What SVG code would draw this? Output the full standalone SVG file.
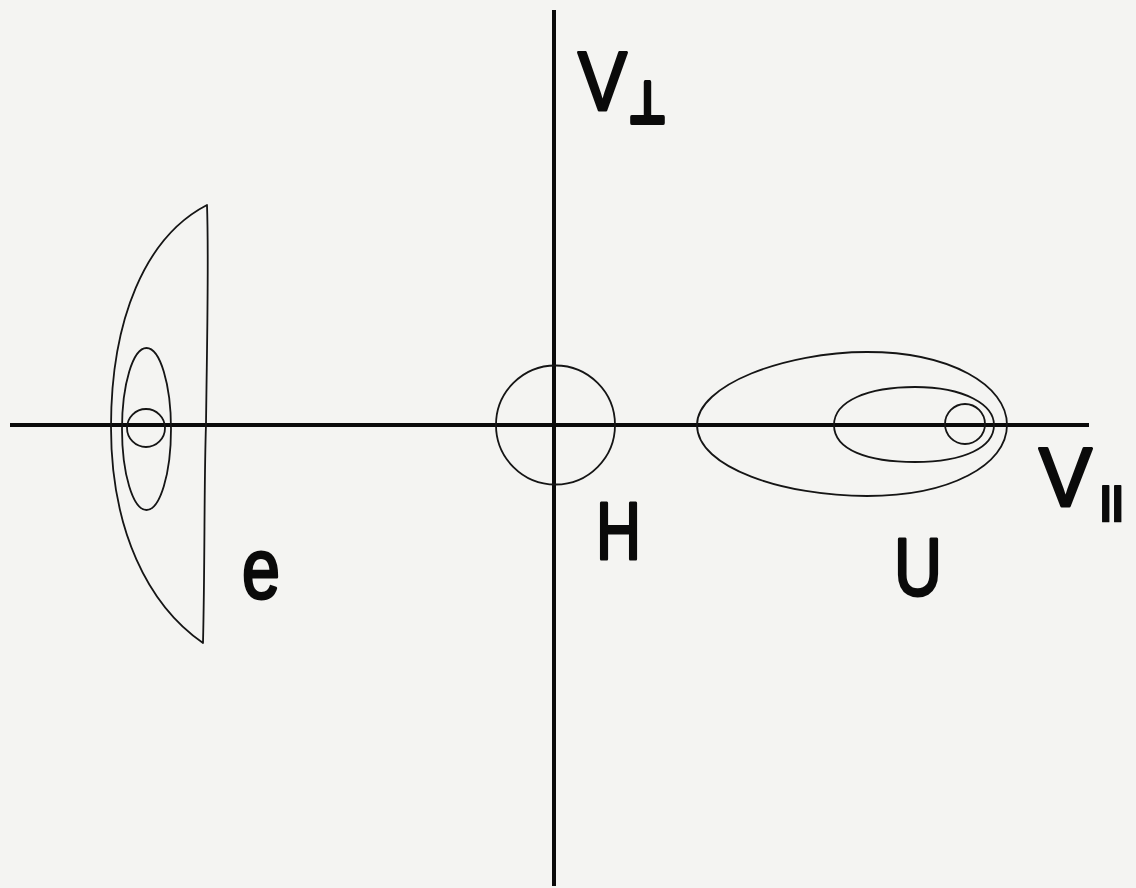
<svg xmlns="http://www.w3.org/2000/svg" width="1136" height="888" viewBox="0 0 1136 888">
  <style>
    .axis { stroke: #0a0a0a; stroke-width: 4; fill: none; stroke-linecap: butt; }
    .curve { stroke: #151515; stroke-width: 1.8; fill: none; stroke-linejoin: round; }
    .lbl { font-family: "Liberation Sans", Arial, sans-serif; font-weight: normal; fill: #0a0a0a; stroke: #0a0a0a; stroke-width: 3; stroke-linejoin: round; stroke-linecap: round; }
    .sym { font-family: "DejaVu Sans", sans-serif; font-weight: bold; fill: #0a0a0a; stroke: #0a0a0a; stroke-width: 4; stroke-linejoin: round; }
    .par { font-family: "DejaVu Sans", sans-serif; font-weight: normal; fill: #0a0a0a; stroke: #0a0a0a; stroke-width: 0.8; stroke-linejoin: round; }
  </style>
  <rect x="0" y="0" width="1136" height="888" fill="#f4f4f2"/>

  <g id="connectors">
    <line class="axis" x1="10" y1="425" x2="1089" y2="425"/>
    <line class="axis" x1="554" y1="10" x2="554" y2="886"/>
  </g>

  <g id="node-e">
    <path class="curve" d="M207,205 C145,237 111,320 111,427 C111,530 148,605 203,643 C205,560 204,480 206,425 C207,340 209,260 207,205 Z"/>
    <ellipse class="curve" cx="146.5" cy="429" rx="24.5" ry="81"/>
    <circle class="curve" cx="146" cy="428" r="19"/>
    <text class="lbl" x="242" y="598" font-size="86" textLength="38" lengthAdjust="spacingAndGlyphs">e</text>
  </g>

  <g id="node-H">
    <circle class="curve" cx="555.5" cy="425" r="59.5"/>
    <text class="lbl" x="596" y="559" font-size="81" textLength="45" lengthAdjust="spacingAndGlyphs">H</text>
  </g>

  <g id="node-U">
    <path class="curve" d="M697,425 C697,385 785,352 867,352 C950,352 1007,385 1007,425 C1007,465 950,496 867,496 C785,496 697,468 697,425 Z"/>
    <path class="curve" d="M834,425 C834,401 868,387 915,387 C965,387 994,405 994,425 C994,447 965,462 915,462 C868,462 834,450 834,425 Z"/>
    <circle class="curve" cx="965" cy="424" r="20"/>
    <text class="lbl" x="894" y="595" font-size="82" textLength="48" lengthAdjust="spacingAndGlyphs">U</text>
  </g>

  <g id="label-vperp">
    <text class="lbl" x="578" y="110" font-size="84" textLength="49" lengthAdjust="spacingAndGlyphs">V</text>
    <text class="sym" x="628" y="123" font-size="58" textLength="39" lengthAdjust="spacingAndGlyphs">⊥</text>
  </g>

  <g id="label-vpar">
    <text class="lbl" x="1039" y="506" font-size="84" textLength="53" lengthAdjust="spacingAndGlyphs">V</text>
    <text class="par" x="0" y="0" font-size="37" transform="translate(1093,514) scale(2,1)">∥</text>
  </g>
</svg>
